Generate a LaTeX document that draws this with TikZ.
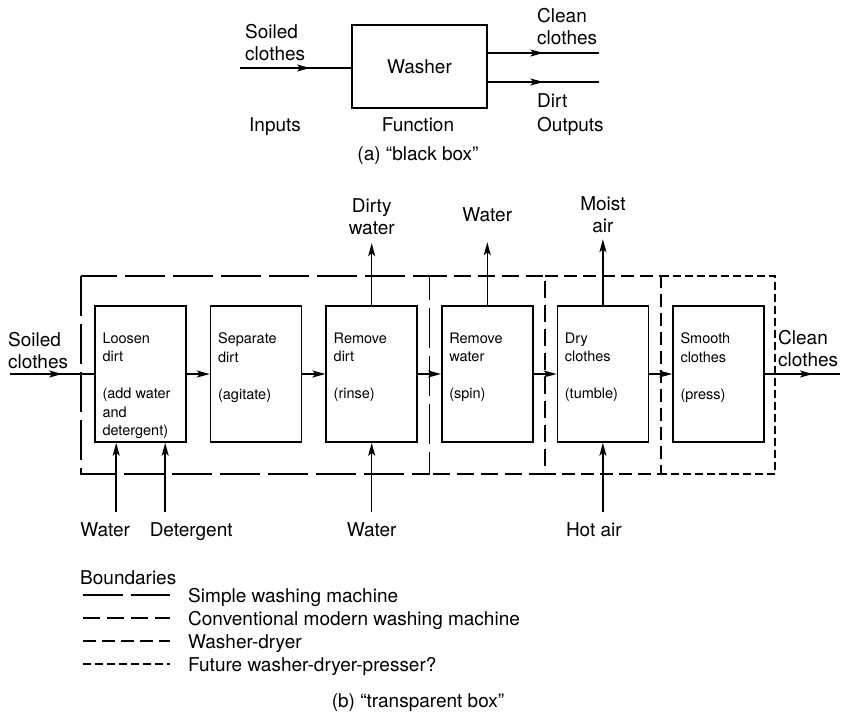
\documentclass[tikz,border=0pt]{standalone}
\usepackage{fontspec}
\setmainfont{TeX Gyre Heros}
\usetikzlibrary{positioning, arrows.meta, calc, decorations.markings}

\newcommand{\steptxt}[1]{\parbox[c][118pt][t]{76pt}{\raggedright\vspace*{17.8pt}#1}}

\begin{document}
\begin{tikzpicture}[x=1pt, y=-1pt,
  >={Stealth[length=13pt, width=7pt, inset=3pt]},
  every node/.style={inner sep=0pt},
  lbl/.style     = {font=\fontsize{19}{22}\selectfont},
  lbl2/.style    = {lbl, align=left},
  ctr2/.style    = {lbl, align=center},
  blk/.style     = {draw, line width=1.6pt, minimum width=135pt, minimum height=83pt, font=\fontsize{19}{22}\selectfont},
  stepbox/.style = {draw, line width=1.6pt, minimum width=91pt, minimum height=136pt, font=\fontsize{14.5}{18.5}\selectfont},
  flowln/.style  = {line width=1.5pt},
  midarr/.style  = {postaction={decorate}, decoration={markings, mark=at position #1 with {\arrow{>}}}},
  simple/.style  = {line width=1.6pt, dash pattern=on 40pt off 8pt},
  conv/.style    = {line width=1.6pt, dash pattern=on 17pt off 7pt},
  wdry/.style    = {line width=1.6pt, dash pattern=on 13pt off 6pt},
  future/.style  = {line width=1.6pt, dash pattern=on 8pt off 4pt},
]
  \useasboundingbox (0,0) rectangle (841,713);
  % (a) black box
  \node[blk] (wash) at (419.5,66.5) {\raisebox{-3pt}{Washer}};
  \coordinate (soilin)   at (240,68);
  \coordinate (cleanend) at (599,53);
  \coordinate (dirtend)  at (599,82);
  \draw[flowln, midarr=0.63] (soilin) -- (soilin -| wash.west);
  \draw[flowln, midarr=0.5] (cleanend -| wash.east) -- (cleanend);
  \draw[flowln, midarr=0.5] (dirtend -| wash.east) -- (dirtend);
  \node[lbl2, anchor=south west] (lsoil)  at (245,61) {Soiled\\clothes};
  \node[lbl2, anchor=south west] (lclean) at (537,45) {Clean\\clothes};
  \node[lbl, anchor=base west]   (ldirt)  at (537,107) {Dirt};
  \node[lbl, anchor=base west]   (lout)   at (537,131) {Outputs};
  \node[lbl, anchor=base]        (lin)    at (275,131) {Inputs};
  \node[lbl, anchor=base]        (lfun)   at (418,131) {Function};
  \node[lbl, anchor=base]        (capa)   at (418,160) {(a) ``black box''};

  % (b) transparent box
  \node[stepbox]                    (loosen) at (140.5,374) {\steptxt{Loosen\\dirt\\[18.5pt](add water\\and\\detergent)}};
  \node[stepbox, right=23pt of loosen] (sep)   {\steptxt{Separate\\dirt\\[18.5pt](agitate)}};
  \node[stepbox, right=23pt of sep]    (rinse) {\steptxt{Remove\\dirt\\[18.5pt](rinse)}};
  \node[stepbox, right=23pt of rinse]  (spin)  {\steptxt{Remove\\water\\[18.5pt](spin)}};
  \node[stepbox, right=23pt of spin]   (dry)   {\steptxt{Dry\\clothes\\[18.5pt](tumble)}};
  \node[stepbox, right=23pt of dry]    (press) {\steptxt{Smooth\\clothes\\[18.5pt](press)}};

  \coordinate (soilend) at (10,374);
  \coordinate (cleanout) at (840,374);
  \draw[flowln, midarr=0.62] (soilend) -- (loosen);
  \foreach \a/\b in {loosen/sep, sep/rinse, rinse/spin, spin/dry, dry/press}
     \draw[flowln, ->] (\a) -- (\b);
  \draw[flowln, midarr=0.64] (press) -- (cleanout);

  % outputs upwards
  \coordinate (dwtip) at ($(rinse.north)+(0,-62)$);
  \coordinate (wtip)  at ($(spin.north)+(0,-63)$);
  \coordinate (matip) at ($(dry.north)+(0,-66)$);
  \draw[flowln, ->] (rinse) -- (dwtip);
  \draw[flowln, ->] (spin) -- (wtip);
  \draw[flowln, ->] (dry) -- (matip);
  \node[ctr2, above=8pt of dwtip] (ldw) {Dirty\\water};
  \node[lbl,  above=20pt of wtip]  (lw)  {Water};
  \node[ctr2, above=6pt of matip]  (lma) {Moist\\air};

  % inputs from below
  \coordinate (w1) at ($(loosen.south west)+(22,69)$);
  \coordinate (dt) at ($(loosen.south west)+(71,69)$);
  \coordinate (w3) at ($(rinse.south)+(0,69)$);
  \coordinate (ha) at ($(dry.south)+(0,69)$);
  \draw[flowln, ->] (w1) -- (w1 |- loosen.south);
  \draw[flowln, ->] (dt) -- (dt |- loosen.south);
  \draw[flowln, ->] (w3) -- (rinse);
  \draw[flowln, ->] (ha) -- (dry);
  \node[lbl, below=11pt of w1, xshift=-11pt] (lw1) {Water};
  \node[lbl, below=11pt of dt, xshift=26pt]  (ldt) {Detergent};
  \node[lbl, below=11pt of w3]               (lw3) {Water};
  \node[lbl, below=11pt of ha, xshift=-9pt]  (lha) {Hot air};

  \node[lbl2, anchor=south west] (lsoil2)  at (8,369)   {Soiled\\clothes};
  \node[lbl2, anchor=south west] (lclean2) at (778,367) {Clean\\clothes};

  % boundaries
  \coordinate (btop) at ($(loosen.north)+(0,-29)$);
  \coordinate (bbot) at ($(loosen.south)+(0,31)$);
  \coordinate (e0) at ($(loosen.west)+(-13,0)$);
  \coordinate (e1) at ($(rinse.east)!0.5!(spin.west)$);
  \coordinate (e2) at ($(spin.east)!0.5!(dry.west)$);
  \coordinate (e3) at ($(dry.east)!0.5!(press.west)$);
  \coordinate (e4) at ($(press.east)+(10,0)$);
  \draw[simple] (e0 |- btop) rectangle (e1 |- bbot);
  \draw[conv]   (e1 |- btop) -- (e2 |- btop) -- (e2 |- bbot) -- (e1 |- bbot);
  \draw[wdry]   (e2 |- btop) -- (e3 |- btop) -- (e3 |- bbot) -- (e2 |- bbot);
  \draw[future] (e3 |- btop) -- (e4 |- btop) -- (e4 |- bbot) -- (e3 |- bbot);

  % legend
  \node[lbl, anchor=base west] (lbnd) at (80,584) {Boundaries};
  \foreach \st/\txt/\yy in {simple/Simple washing machine/595, conv/Conventional modern washing machine/618,
                            wdry/Washer-dryer/641, future/Future washer-dryer-presser?/664} {
    \draw[\st] (83,\yy) -- (170,\yy);
    \node[lbl, anchor=base west] at (188,\yy+7) {\txt};
  }
  \node[lbl, anchor=base] (capb) at (418,707) {(b) ``transparent box''};
\end{tikzpicture}
\end{document}
